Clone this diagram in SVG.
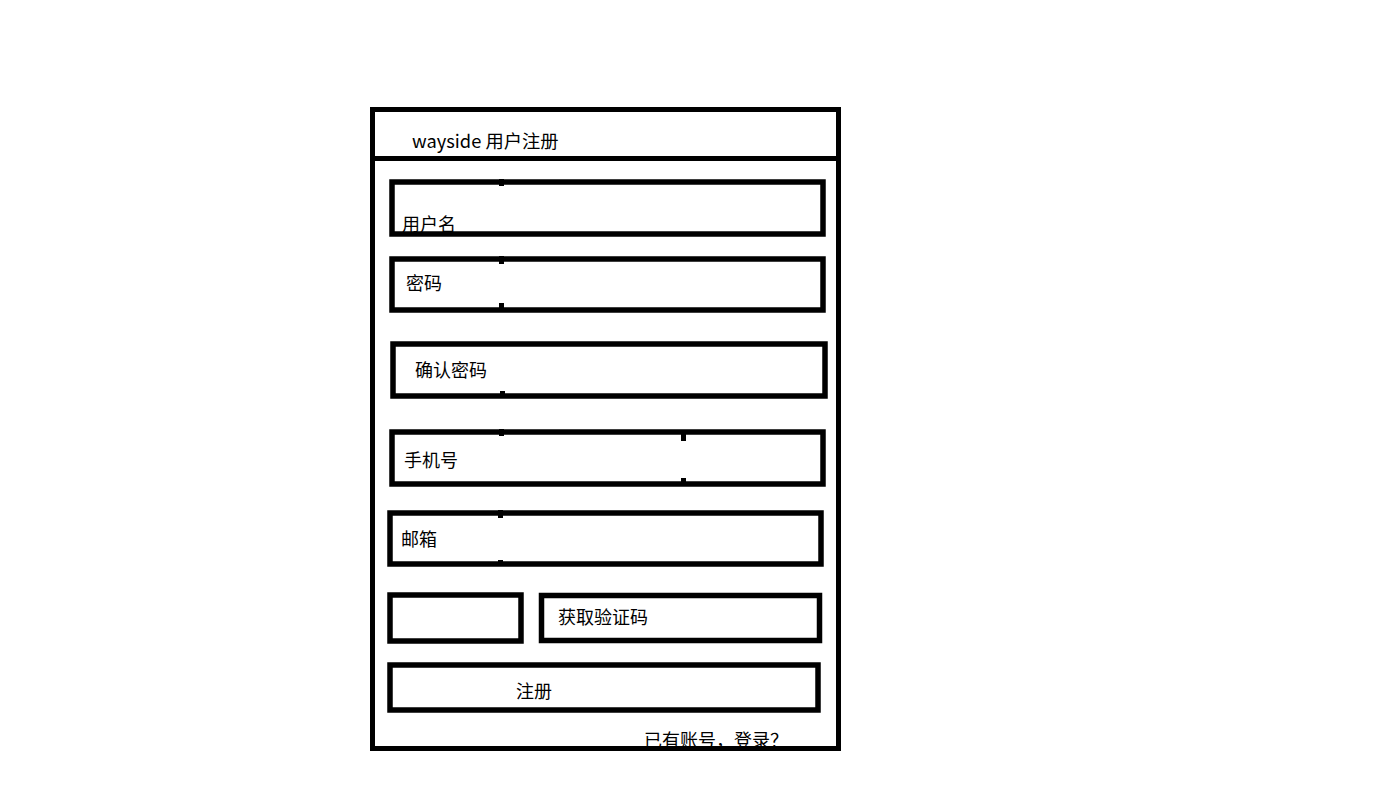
<svg xmlns="http://www.w3.org/2000/svg" width="1376" height="811" viewBox="0 0 1376 811">
<style>
.box{fill:none;stroke:#000;stroke-width:5.5}
.frame{fill:none;stroke:#000;stroke-width:5}
.t{font-family:"Noto Sans CJK SC","Microsoft YaHei","Noto Sans",sans-serif;font-size:18px;fill:#000}
.tick{fill:#000}
</style>
<rect x="0" y="0" width="1376" height="811" fill="#fff"/>
<g id="login-link"><text class="t" x="644" y="747">已有账号，登录？</text></g>
<g id="frame">
<rect class="frame" x="372.5" y="109.5" width="466" height="639"/>
<line x1="372" y1="158.5" x2="839" y2="158.5" stroke="#000" stroke-width="5"/>
</g>
<g id="title"><text class="t" x="412" y="148" style="font-size:18.3px">wayside 用户注册</text></g>
<g id="username">
<text class="t" x="402" y="231">用户名</text>
<rect class="box" x="392" y="182" width="431" height="52"/>
<rect class="tick" x="499" y="179" width="5" height="7"/>
</g>
<g id="password">
<text class="t" x="406" y="290">密码</text>
<rect class="box" x="392" y="259" width="431" height="51"/>
<rect class="tick" x="499" y="256" width="5" height="8"/>
<rect class="tick" x="499" y="303" width="5" height="8"/>
</g>
<g id="confirm-password">
<text class="t" x="415" y="377">确认密码</text>
<rect class="box" x="393" y="344" width="432" height="52"/>
<rect class="tick" x="500" y="391" width="5" height="4"/>
</g>
<g id="phone">
<text class="t" x="404" y="467">手机号</text>
<rect class="box" x="392" y="432" width="431" height="52"/>
<rect class="tick" x="499" y="429" width="5" height="7"/>
<rect class="tick" x="681" y="432" width="5" height="9"/>
<rect class="tick" x="681" y="478" width="5" height="4"/>
</g>
<g id="email">
<text class="t" x="401" y="546">邮箱</text>
<rect class="box" x="390" y="513" width="431" height="51"/>
<rect class="tick" x="498" y="510" width="5" height="8"/>
<rect class="tick" x="498" y="560" width="5" height="4"/>
</g>
<g id="code-input">
<rect class="box" x="390" y="595" width="131" height="46"/>
</g>
<g id="get-code">
<text class="t" x="558" y="624">获取验证码</text>
<rect class="box" x="541.5" y="595.5" width="278" height="45"/>
</g>
<g id="register">
<text class="t" x="516" y="698">注册</text>
<rect class="box" x="390" y="665" width="428" height="45"/>
</g>
<g id="connectors"></g>
</svg>
